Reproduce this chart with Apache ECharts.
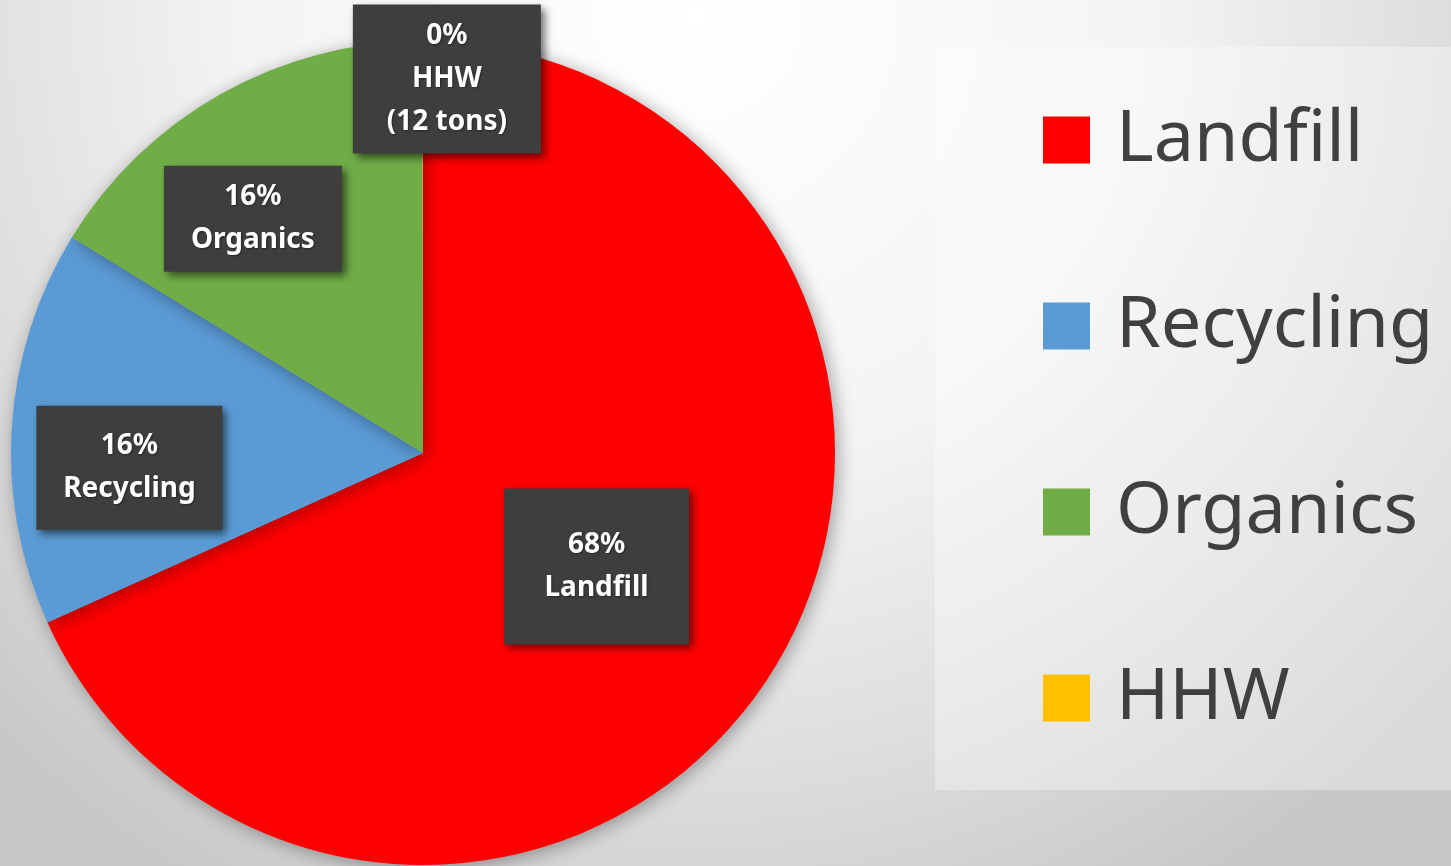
<!DOCTYPE html>
<html>
<head>
<meta charset="utf-8">
<script src="https://cdn.jsdelivr.net/npm/echarts@6/dist/echarts.min.js"></script>
<style>html,body{margin:0;padding:0;}#chart{width:1451px;height:866px;}</style>
</head>
<body>
<div id="chart"></div>
<script>
// Data
const categories = ['Landfill', 'Recycling', 'Organics', 'HHW'];
const shares = [68.2, 15.5, 16.2, 0.02];
const shareLabels = ['68%', '16%', '16%', '0%'];
const labelNames = ['Landfill', 'Recycling', 'Organics', 'HHW\n(12 tons)'];

// Styles (separate from data)
const colors = ['#ff0000', '#5b9bd5', '#70ad47', '#ffc000'];
const labelOffsets = [[-2, 0], [-85, 28], [-68, -52], [24, -165]];
const labelBoxW = [185, 186, 178, 188];
const labelPadV = [35, 19, 10, 10];

const chart = echarts.init(document.getElementById('chart'));
chart.setOption({
  backgroundColor: {
    type: 'radial', x: 0.48, y: 0.02, r: 1.15,
    colorStops: [
      {offset: 0, color: '#ffffff'},
      {offset: 0.45, color: '#f4f4f4'},
      {offset: 0.75, color: '#dedede'},
      {offset: 1, color: '#c8c8c8'}
    ]
  },
  animation: false,
  legend: {
    orient: 'vertical',
    left: 935, top: 47,
    padding: [57, 30, 56, 108],
    backgroundColor: 'rgba(255,255,255,0.35)',
    icon: 'rect',
    itemWidth: 47, itemHeight: 47, itemGap: 114,
    selectedMode: false,
    data: categories,
    textStyle: {
      fontFamily: 'Noto Sans', fontSize: 72, color: '#404040',
      padding: [0, 0, 0, 21]
    }
  },
  series: [{
    type: 'pie',
    center: [423, 453],
    radius: 412,
    startAngle: 90,
    clockwise: true,
    avoidLabelOverlap: false,
    minAngle: 0,
    itemStyle: {
      shadowColor: 'rgba(0,0,0,0.35)', shadowBlur: 18, shadowOffsetX: 3, shadowOffsetY: 3
    },
    labelLine: {show: false},
    emphasis: {disabled: true},
    data: categories.map((c, i) => ({
      name: c,
      value: shares[i],
      itemStyle: {color: colors[i]},
      label: {
        show: true,
        position: 'inside',
        formatter: shareLabels[i] + '\n' + labelNames[i],
        offset: labelOffsets[i],
        width: labelBoxW[i],
        padding: [labelPadV[i], 0],
        align: 'center',
        color: '#ffffff',
        fontFamily: 'Noto Sans',
        fontWeight: 'bold',
        fontSize: 28,
        lineHeight: 43,
        backgroundColor: '#3e3e3e',
        shadowColor: 'rgba(0,0,0,0.55)',
        shadowBlur: 8,
        shadowOffsetX: 4,
        shadowOffsetY: 4,
        textShadowColor: 'rgba(0,0,0,0.4)',
        textShadowBlur: 2,
        textShadowOffsetX: 1,
        textShadowOffsetY: 1
      }
    }))
  }]
});
</script>
</body>
</html>
